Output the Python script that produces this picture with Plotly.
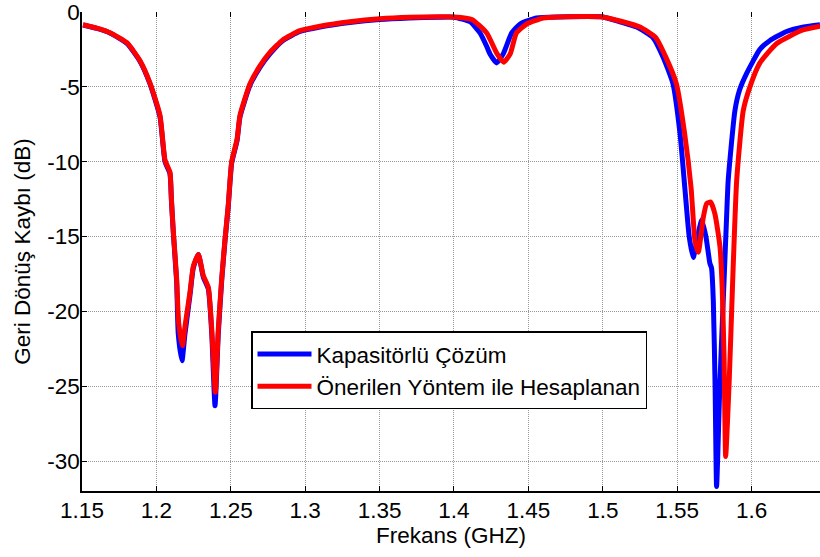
import plotly.graph_objects as go

# Kapasitörlü Çözüm (blue)
freq_kap = [1.1507, 1.1600, 1.1688, 1.1802, 1.1890, 1.1957, 1.2024, 1.2058, 1.2091, 1.2101,
            1.2114, 1.2136, 1.2147, 1.2172, 1.2192, 1.2226, 1.2248, 1.2282, 1.2315, 1.2349,
            1.2372, 1.2394, 1.2416, 1.2439, 1.2461, 1.2483, 1.2506, 1.2542, 1.2562, 1.2629,
            1.2696, 1.2763, 1.2851, 1.2965, 1.3100, 1.3300, 1.3500, 1.3700, 1.3900, 1.4000,
            1.4108, 1.4175, 1.4220, 1.4242, 1.4287, 1.4331, 1.4388, 1.4444, 1.4556, 1.4700,
            1.5000, 1.5116, 1.5228, 1.5337, 1.5405, 1.5472, 1.5519, 1.5552, 1.5581, 1.5608,
            1.5642, 1.5665, 1.5694, 1.5720, 1.5731, 1.5743, 1.5755, 1.5765, 1.5788, 1.5815,
            1.5833, 1.5843, 1.5888, 1.5920, 1.5967, 1.6056, 1.6124, 1.6236, 1.6350, 1.6460]
rl_kap = [-0.87, -1.10, -1.40, -2.10, -3.30, -4.80, -7.00, -10.0, -10.8, -12.6,
          -14.8, -18.0, -21.5, -23.3, -21.5, -18.9, -17.1, -16.2, -17.7, -18.5,
          -21.5, -26.3, -21.5, -17.95, -15.3, -13.0, -10.1, -8.6, -7.0, -4.9,
          -3.7, -2.8, -1.9, -1.3, -1.0, -0.7, -0.5, -0.4, -0.35, -0.35,
          -0.65, -1.4, -2.3, -2.8, -3.4, -2.8, -1.4, -0.8, -0.4, -0.33,
          -0.33, -0.65, -1.0, -1.7, -3.0, -4.8, -8.1, -11.8, -15.0, -16.4,
          -14.8, -13.9, -15.05, -16.8, -17.1, -19.3, -25.0, -31.7, -24.6, -18.0,
          -13.5, -11.25, -6.6, -5.2, -4.1, -2.5, -1.9, -1.3, -1.0, -0.85]

# Önerilen Yöntem ile Hesaplanan (red)
freq_oner = [1.1507, 1.1600, 1.1688, 1.1802, 1.1890, 1.1957, 1.2024, 1.2058, 1.2091, 1.2101,
             1.2114, 1.2136, 1.2150, 1.2175, 1.2195, 1.2226, 1.2248, 1.2282, 1.2315, 1.2349,
             1.2372, 1.2396, 1.2416, 1.2439, 1.2461, 1.2483, 1.2506, 1.2542, 1.2562, 1.2629,
             1.2696, 1.2763, 1.2851, 1.2965, 1.3100, 1.3300, 1.3500, 1.3700, 1.3900, 1.4000,
             1.4120, 1.4220, 1.4290, 1.4334, 1.4378, 1.4420, 1.4489, 1.4600, 1.4700,
             1.5000, 1.5116, 1.5250, 1.5355, 1.5423, 1.5495, 1.5550, 1.5594, 1.5620, 1.5642,
             1.5676, 1.5698, 1.5725, 1.5754, 1.5788, 1.5803, 1.5815, 1.5826, 1.5850, 1.5873,
             1.5900, 1.5944, 1.5989, 1.6056, 1.6169, 1.6345, 1.6460]
rl_oner = [-0.85, -1.08, -1.38, -2.05, -3.25, -4.75, -6.90, -9.9, -10.7, -12.5,
           -14.7, -17.8, -20.8, -22.3, -20.8, -18.7, -17.0, -16.2, -17.6, -18.4,
           -21.2, -25.4, -21.2, -17.8, -15.2, -12.9, -10.0, -8.5, -6.9, -4.8,
           -3.6, -2.7, -1.85, -1.25, -0.95, -0.65, -0.45, -0.35, -0.32, -0.33,
           -0.5, -1.4, -2.8, -3.35, -2.8, -1.4, -0.8, -0.4, -0.33,
           -0.33, -0.6, -1.0, -1.7, -3.0, -4.8, -8.1, -11.8, -15.3, -16.05,
           -13.7, -12.8, -12.7, -13.5, -15.7, -18.5, -23.0, -29.7, -24.6, -18.0,
           -11.25, -6.6, -5.0, -3.4, -2.1, -1.2, -0.95]

series_names = ["Kapasitörlü Çözüm", "Önerilen Yöntem ile Hesaplanan"]
series_colors = ["#0000ff", "#ff0000"]

x_ticks = [1.15, 1.2, 1.25, 1.3, 1.35, 1.4, 1.45, 1.5, 1.55, 1.6]
x_ticktext = ["1.15", "1.2", "1.25", "1.3", "1.35", "1.4", "1.45", "1.5", "1.55", "1.6"]
y_ticks = [0, -5, -10, -15, -20, -25, -30]
y_ticktext = ["0", "-5", "-10", "-15", "-20", "-25", "-30"]

FONT = "Arial, Liberation Sans, sans-serif"
FS = 22.5

fig = go.Figure()
fig.add_trace(go.Scatter(x=freq_kap, y=rl_kap, mode="lines", name=series_names[0],
                         line=dict(color=series_colors[0], width=5, shape="spline", smoothing=0.5)))
fig.add_trace(go.Scatter(x=freq_oner, y=rl_oner, mode="lines", name=series_names[1],
                         line=dict(color=series_colors[1], width=5, shape="spline", smoothing=0.5)))
# invisible trace so the top (mirror) tick axis is drawn
fig.add_trace(go.Scatter(x=[x_ticks[0]], y=[y_ticks[0]], xaxis="x2", mode="lines",
                         showlegend=False, hoverinfo="skip", line=dict(width=0)))

grid = dict(showgrid=True, gridcolor="#9a9a9a", griddash="1px,1px", gridwidth=1)

fig.update_layout(
    width=820, height=557,
    margin=dict(l=82, r=0, t=12, b=66),
    paper_bgcolor="white", plot_bgcolor="white",
    font=dict(family=FONT, size=FS, color="black"),
    showlegend=True,
    legend=dict(x=0.229, y=0.333, xanchor="left", yanchor="top",
                bgcolor="white", bordercolor="black", borderwidth=1.5,
                font=dict(family=FONT, size=22.5, color="black"),
                itemwidth=54, tracegroupgap=0),
    xaxis=dict(range=[1.15, 1.646], tickvals=x_ticks, ticktext=x_ticktext,
               ticks="inside", ticklen=5, tickcolor="black",
               showline=True, linecolor="black", linewidth=1.5,
               zeroline=False, automargin=False, ticklabeloverflow="allow",
               ticklabelstandoff=-2,
               tickfont=dict(family=FONT, size=FS),
               title=dict(text="Frekans (GHZ)", standoff=2,
                          font=dict(family=FONT, size=FS)),
               **grid),
    xaxis2=dict(range=[1.15, 1.646], overlaying="x", side="top", matches="x",
                tickvals=x_ticks, ticks="inside", ticklen=5, tickcolor="black",
                showticklabels=False, showgrid=False, showline=False, zeroline=False),
    yaxis=dict(range=[-32, 0], tickvals=y_ticks, ticktext=y_ticktext,
               ticks="inside", ticklen=5, tickcolor="black",
               showline=True, linecolor="black", linewidth=1.5,
               zeroline=False, automargin=False, ticklabeloverflow="allow",
               ticklabelstandoff=-4,
               tickfont=dict(family=FONT, size=FS),
               title=dict(text="Geri Dönüş Kaybı (dB)", standoff=10,
                          font=dict(family=FONT, size=FS)),
               **grid),
)

fig.write_html("out.html", config={"displayModeBar": False},
               post_script="document.body.style.margin='0';")
